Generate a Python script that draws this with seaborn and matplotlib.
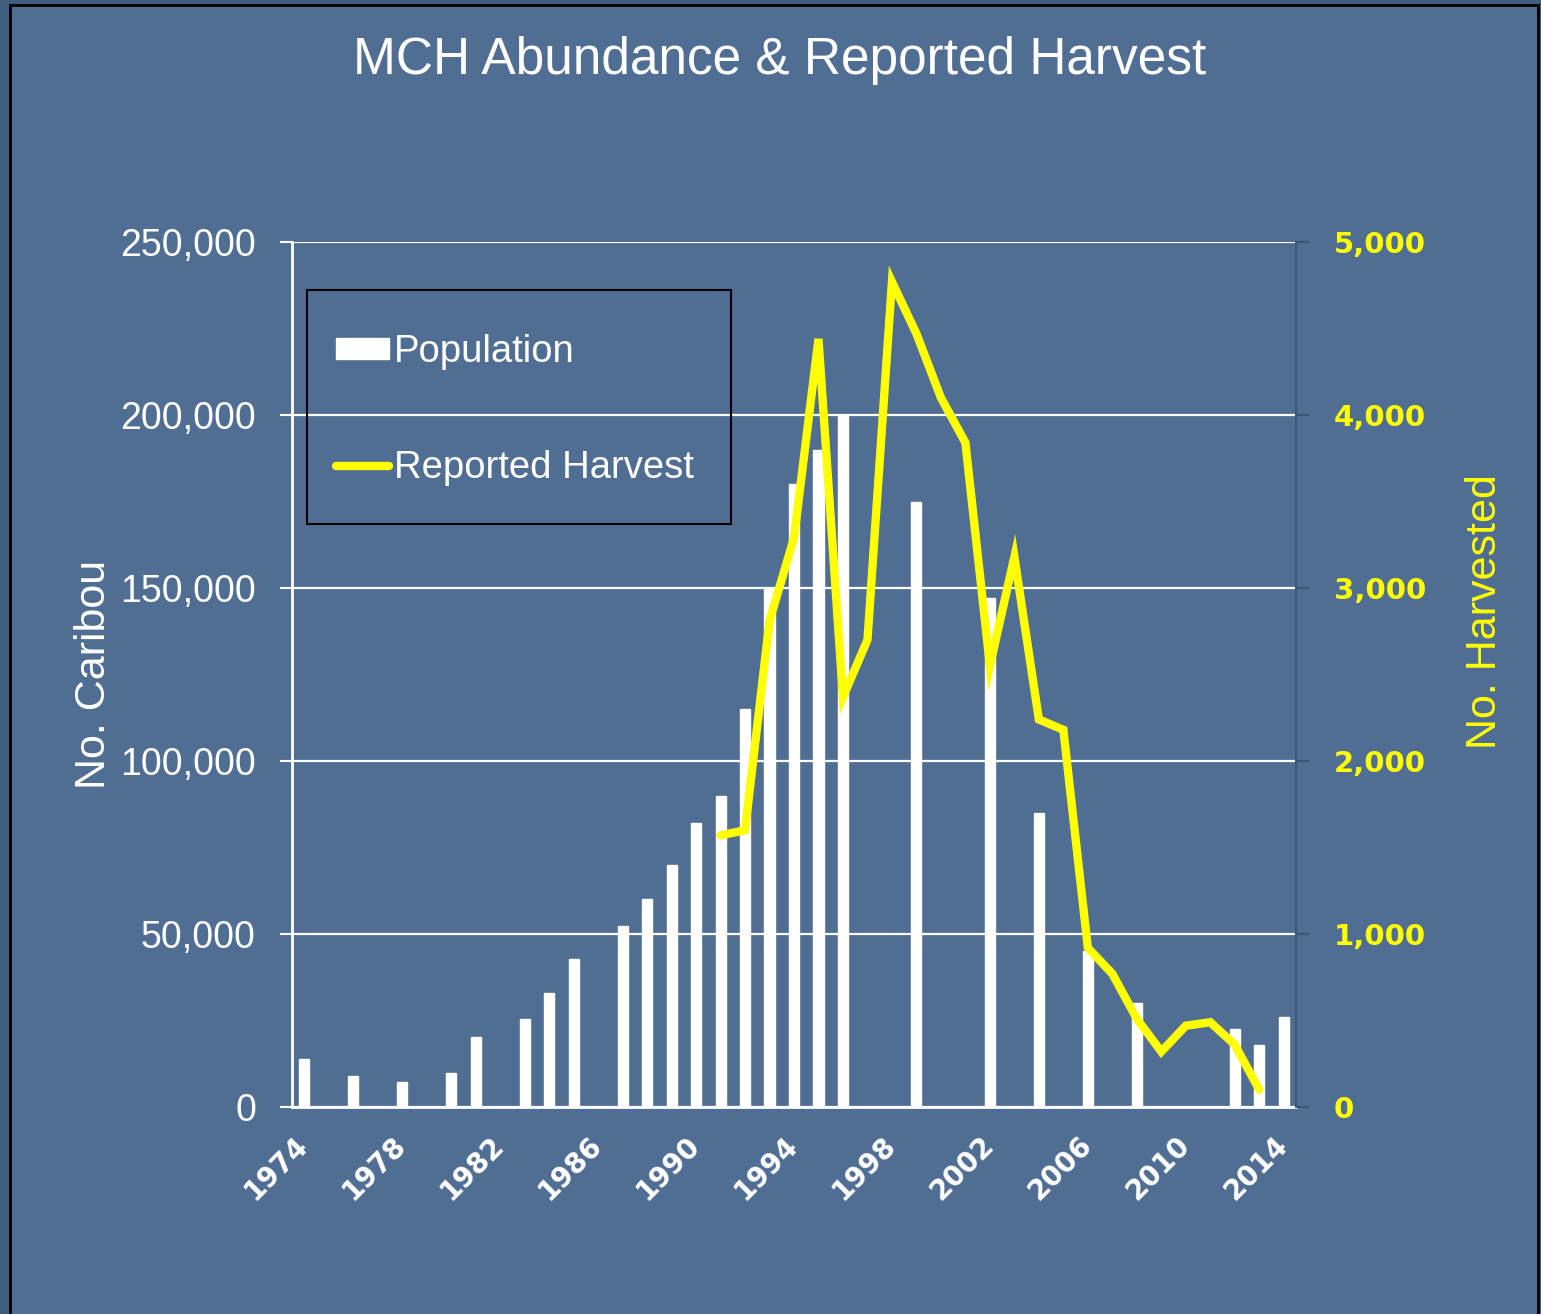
import pandas as pd
import matplotlib.pyplot as plt
import seaborn as sns
from matplotlib.patches import Patch, Rectangle
from matplotlib.lines import Line2D
from matplotlib.ticker import FuncFormatter
from matplotlib.transforms import ScaledTranslation

# data
years = list(range(1974, 2015))
pop_years = [1974, 1976, 1978, 1980, 1981, 1983, 1984, 1985, 1987, 1988, 1989,
             1990, 1991, 1992, 1993, 1994, 1995, 1996, 1999, 2002, 2004, 2006,
             2008, 2012, 2013, 2014]
population = [14000, 9000, 7200, 9700, 20300, 25300, 33000, 42800, 52300, 60200, 69800,
              82000, 90000, 115000, 150000, 180000, 190000, 200000, 175000, 147000, 85000, 45000,
              30000, 22600, 18000, 26000]
harvest_years = list(range(1991, 2014))
harvest = [1570, 1600, 2810, 3290, 4440, 2370, 2700, 4770, 4470, 4100, 3840,
           2550, 3180, 2240, 2180, 920, 770, 510, 320, 470, 490, 360, 100]

bg = '#506E94'
yellow = '#FFFF00'

df = pd.DataFrame({'Year': [str(y) for y in pop_years], 'Population': population})

sns.set_style('white')
plt.rcParams['font.family'] = ['Liberation Sans', 'DejaVu Sans']

fig = plt.figure(figsize=(15.41, 13.14), dpi=100)
fig.patch.set_facecolor('#3F5E7B')
fig.patches.append(Rectangle((10 / 1541, -0.01), 1528 / 1541, 1.01 - 5 / 1314,
                             transform=fig.transFigure, facecolor=bg,
                             edgecolor='black', linewidth=2, zorder=-10))

ax = fig.add_axes([292 / 1541, 1 - 1107 / 1314, 1004 / 1541, 865 / 1314])
ax.set_facecolor(bg)
ax.set_axisbelow(True)

sns.barplot(data=df, x='Year', y='Population', order=[str(y) for y in years],
            color='white', saturation=1, width=0.41, ax=ax)

ax.set_xlim(-0.5, len(years) - 0.5)
ax.set_ylim(0, 250000)
ax.set_yticks(range(0, 250001, 50000))
ax.yaxis.set_major_formatter(FuncFormatter(lambda v, p: f'{int(v):,}'))
ax.grid(axis='y', color='white', linewidth=1.6)
ax.grid(axis='x', visible=False)

ax.set_xticks(range(0, len(years), 4))
ax.set_xticklabels([str(y) for y in years[::4]], rotation=45, ha='right',
                   rotation_mode='anchor', va='center', color='white',
                   fontsize=20, fontweight='bold', family='DejaVu Sans')
shift = ScaledTranslation(5 / 100, 0, fig.dpi_scale_trans)
for lab in ax.get_xticklabels():
    lab.set_transform(lab.get_transform() + shift)
ax.set_xticks([i - 0.5 for i in range(len(years) + 1)], minor=True)
ax.tick_params(axis='x', which='major', length=0, pad=24)
ax.tick_params(axis='x', which='minor', length=8, width=1.5, color='white', direction='out')
ax.tick_params(axis='y', length=9, width=1.5, color='white', direction='out',
               labelsize=27, labelcolor='white', pad=17)

for s in ['top', 'right']:
    ax.spines[s].set_visible(False)
for s in ['left', 'bottom']:
    ax.spines[s].set_color('white')
    ax.spines[s].set_linewidth(2)

ax.set_xlabel('')
ax.set_ylabel('No. Caribou', color='white', fontsize=31)
ax.yaxis.set_label_coords(-0.177, 0.5)

ax2 = ax.twinx()
sns.lineplot(x=[y - 1974 for y in harvest_years], y=harvest, ax=ax2,
             color=yellow, linewidth=6, solid_capstyle='round', solid_joinstyle='miter')
ax2.set_xlim(-0.5, len(years) - 0.5)
ax2.set_ylim(0, 5000)
ax2.set_yticks(range(0, 5001, 1000))
ax2.yaxis.set_major_formatter(FuncFormatter(lambda v, p: f'{int(v):,}'))
ax2.tick_params(axis='y', length=9, width=1.5, color='#3B5778', direction='out',
                labelsize=21, labelcolor=yellow, pad=18)
for lab in ax2.get_yticklabels():
    lab.set_fontweight('bold')
    lab.set_family('DejaVu Sans')
for s in ['top', 'left', 'bottom']:
    ax2.spines[s].set_visible(False)
ax2.spines['right'].set_color('#3B5778')
ax2.spines['right'].set_linewidth(1.5)
ax2.set_ylabel('No. Harvested', color=yellow, fontsize=31)
ax2.yaxis.set_label_coords(1.168, 0.573)

# legend box drawn separately so the frame and the entries can be placed independently
ax2.add_patch(Rectangle((0.0149, 0.674), 0.4223, 0.2705, transform=ax2.transAxes,
                        fill=False, edgecolor='black', linewidth=1.5, zorder=5))
handles = [Patch(facecolor='white', edgecolor='white'),
           Line2D([], [], color=yellow, linewidth=6, solid_capstyle='round')]
leg = ax2.legend(handles, ['Population', 'Reported Harvest'],
                 loc='upper left', bbox_to_anchor=(0.0438, 0.8935),
                 borderaxespad=0, borderpad=0, fontsize=27.5, frameon=False,
                 labelcolor='white', handlelength=1.4, handleheight=0.5,
                 handletextpad=0.12, labelspacing=2.1)

fig.text(0.506, 0.954, 'MCH Abundance & Reported Harvest', color='white',
         fontsize=37, ha='center', va='center')

fig.savefig('out.png', dpi=100, facecolor=fig.get_facecolor())
